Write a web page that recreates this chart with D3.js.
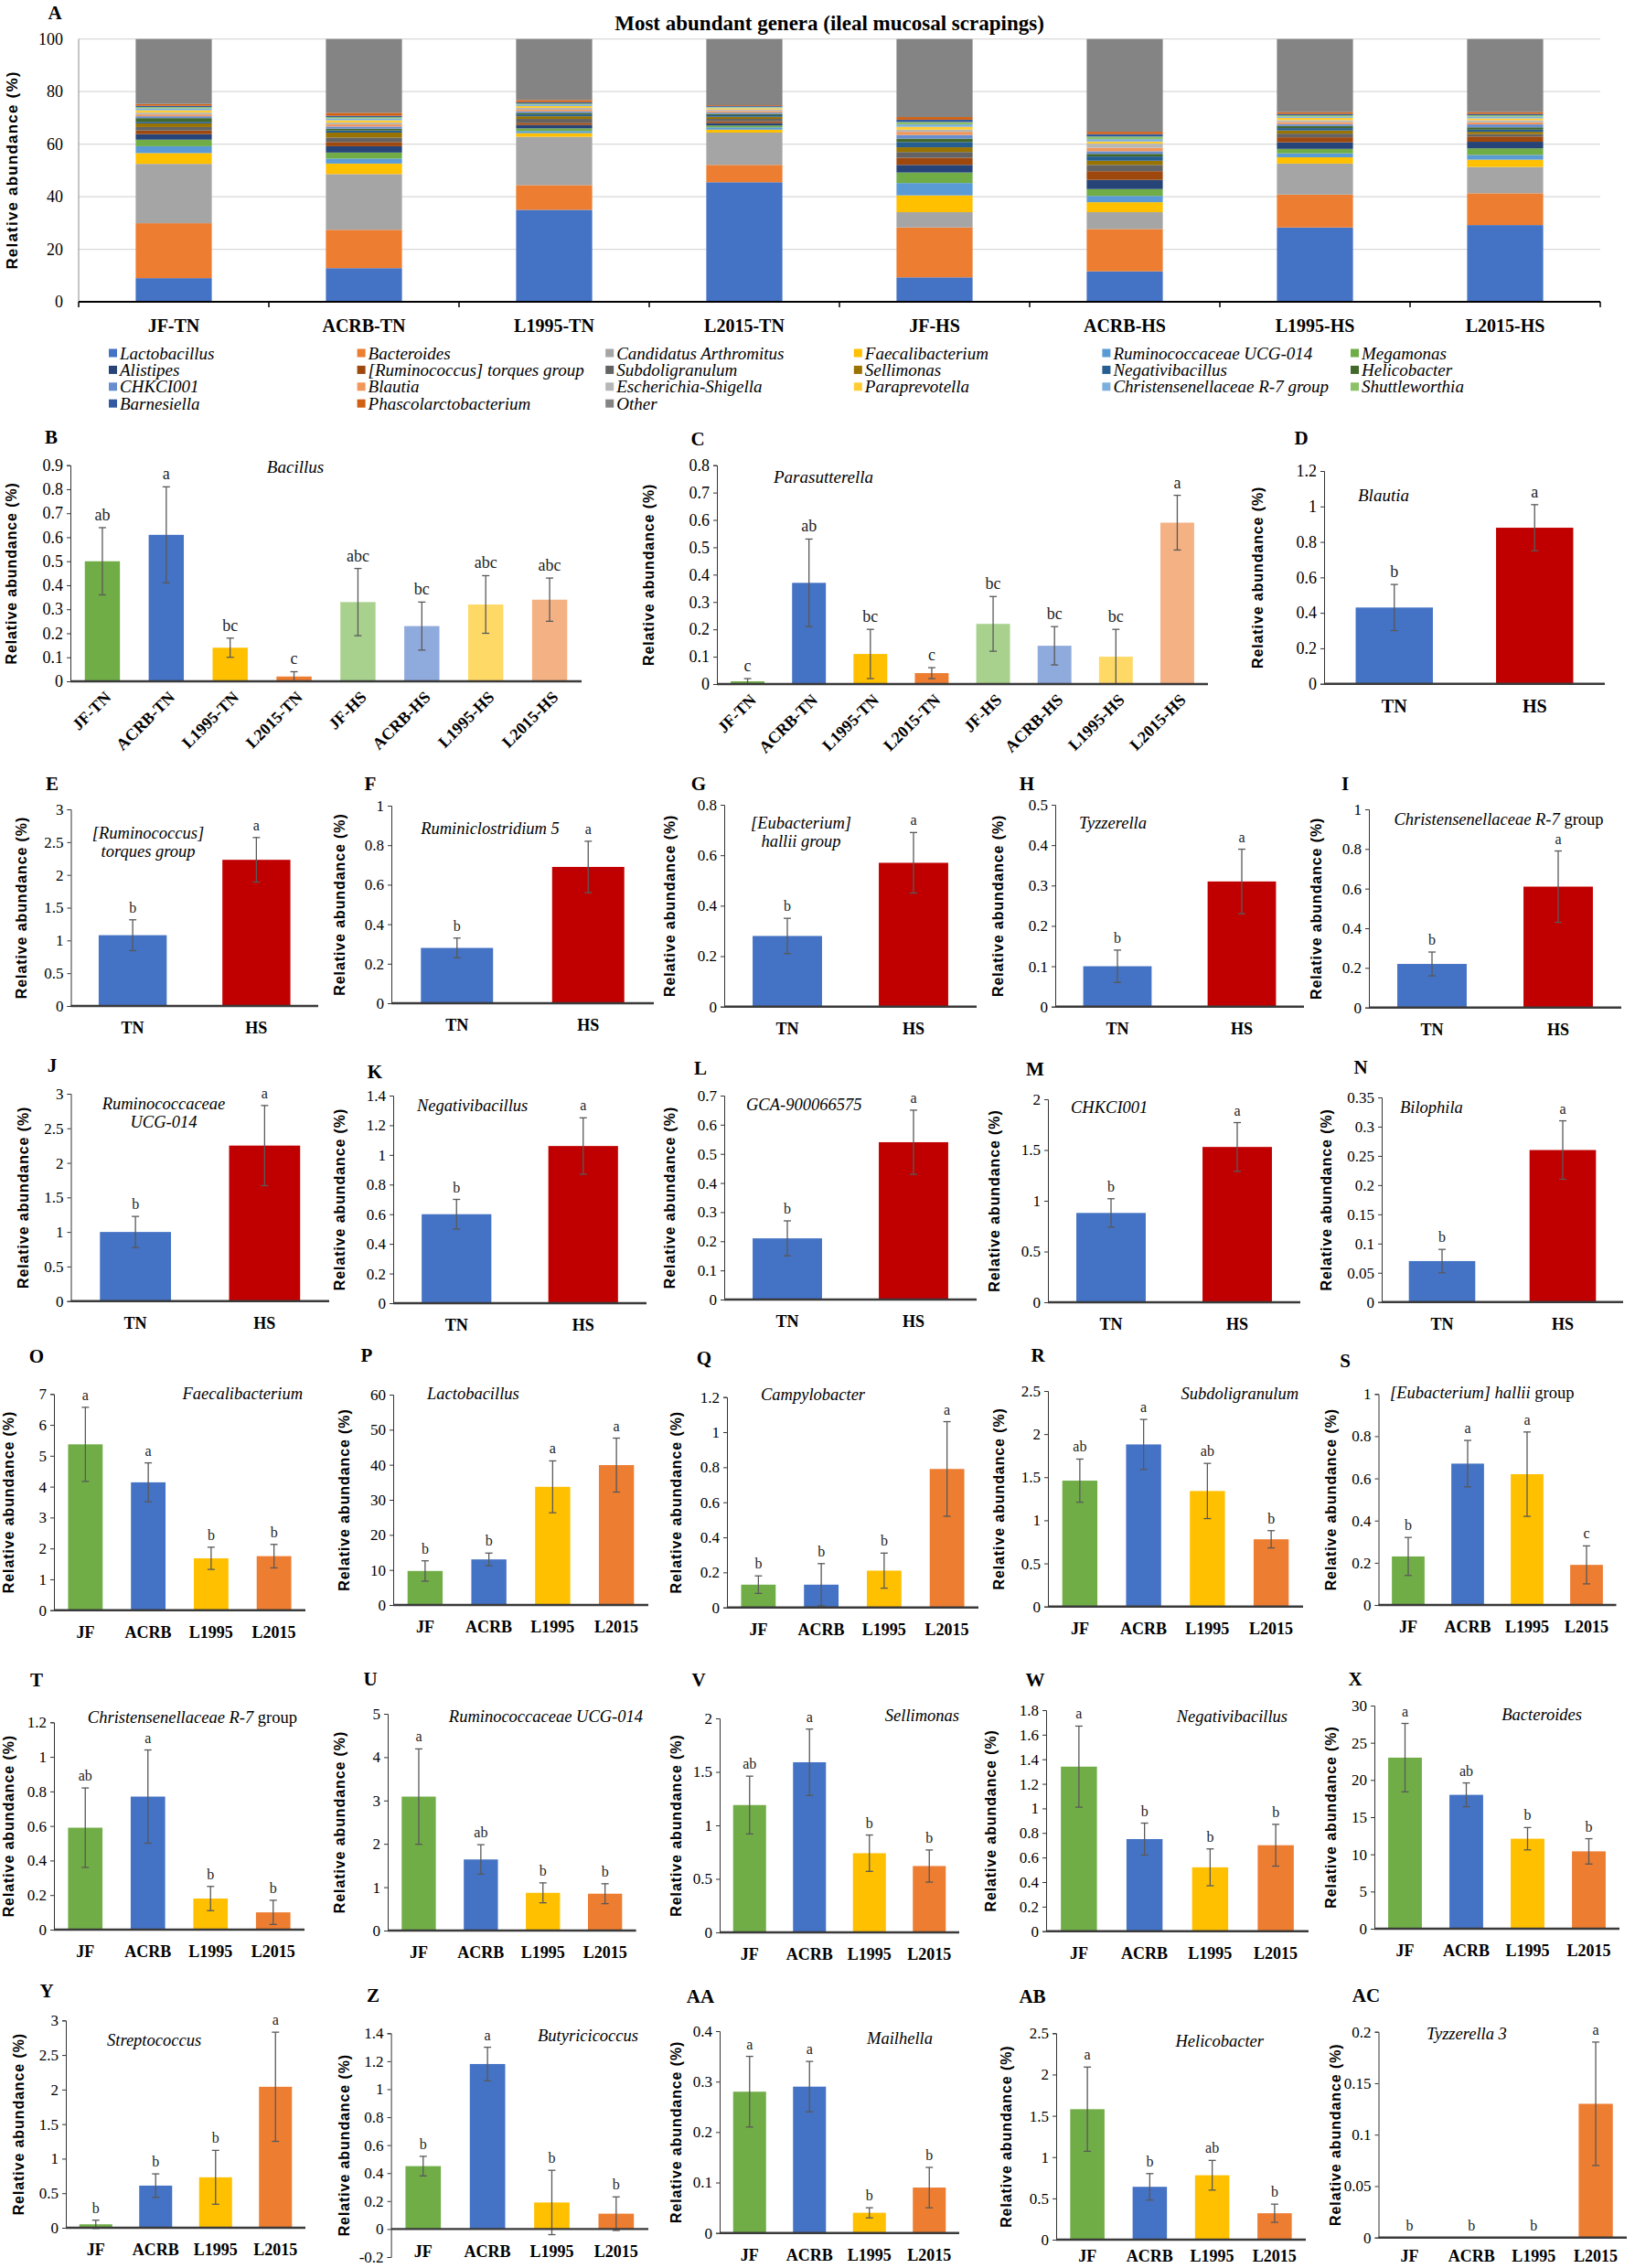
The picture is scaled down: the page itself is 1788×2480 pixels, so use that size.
<!DOCTYPE html>
<meta charset="utf-8">
<script src="https://cdn.jsdelivr.net/npm/d3@7"></script>
<style>
  body { margin: 0; background: #fff; }
  text { font-family: "Liberation Serif", "Times New Roman", serif; }
</style>
<div id="chart"></div>
<script>
// ---------- categories ----------
var groups8 = ["JF-TN","ACRB-TN","L1995-TN","L2015-TN","JF-HS","ACRB-HS","L1995-HS","L2015-HS"];
var groups4 = ["JF","ACRB","L1995","L2015"];
var groups2 = ["TN","HS"];
var colors8 = ["#70AD47","#4472C4","#FFC000","#ED7D31","#A9D18E","#8FAADC","#FFD966","#F4B183"];
var colors4 = ["#70AD47","#4472C4","#FFC000","#ED7D31"];
var colors2 = ["#4472C4","#C00000"];

// ---------- panel A: stacked genera ----------
var genera = ["Lactobacillus","Bacteroides","Candidatus Arthromitus","Faecalibacterium","Ruminococcaceae UCG-014","Megamonas",
  "Alistipes","[Ruminococcus] torques group","Subdoligranulum","Sellimonas","Negativibacillus","Helicobacter",
  "CHKCI001","Blautia","Escherichia-Shigella","Paraprevotella","Christensenellaceae R-7 group","Shuttleworthia",
  "Barnesiella","Phascolarctobacterium","Other"];
var generaColors = ["#4472C4","#ED7D31","#A5A5A5","#FFC000","#5B9BD5","#70AD47",
  "#264478","#9E480E","#636363","#997300","#255E91","#43682B",
  "#698ED0","#F1975A","#B7B7B7","#FFCD33","#7CAFDD","#8CC168",
  "#335AA1","#D26012","#848484"];
// relative abundance (%), genera order, one array per group
var jfTN    = [9.0,20.9,22.6,4.1,2.6,2.5,2.1,1.4,1.3,1.4,0.6,1.4,0.7,0.7,0.7,0.9,0.7,0.5,0.5,0.7,24.7];
var acrbTN  = [12.8,14.6,21.2,4.0,1.9,2.3,2.4,1.6,1.7,1.9,0.8,0.7,0.8,0.8,0.7,0.9,0.7,0.5,0.5,1.1,28.1];
var l1995TN = [35.0,9.4,18.4,1.4,0.8,1.0,1.3,0.8,1.5,1.0,0.7,0.6,0.6,0.6,0.7,0.7,0.6,0.4,0.5,0.8,23.2];
var l2015TN = [45.5,6.6,12.3,1.1,0.9,0.7,0.9,0.7,0.9,0.8,0.6,0.5,0.5,0.6,0.6,0.5,0.3,0.2,0.3,0.3,25.2];
var jfHS    = [9.3,19.0,5.8,6.4,4.7,4.0,2.9,2.7,2.2,1.8,2.0,1.3,1.4,1.2,0.8,1.1,0.9,0.9,0.9,1.0,29.7];
var acrbHS  = [11.6,16.1,6.4,3.8,2.4,2.6,3.5,3.3,2.4,1.6,1.6,1.0,1.0,1.3,1.6,0.8,0.9,1.0,0.9,0.9,35.3];
var l1995HS = [28.3,12.5,11.8,2.4,1.5,1.7,2.5,1.9,1.4,1.2,0.9,0.8,0.7,0.8,0.7,0.9,0.5,0.5,0.5,0.7,27.8];
var l2015HS = [29.2,12.1,10.0,2.8,1.8,2.5,2.5,2.0,0.9,0.9,0.8,0.9,1.1,0.8,0.8,0.7,0.7,0.5,0.5,0.7,27.8];
var stackTicks = [0,20,40,60,80,100];

// ---------- single-genus panels: mean, SE, letters ----------
var bacillusM = [0.50,0.61,0.14,0.02,0.33,0.23,0.32,0.34], bacillusSE = [0.14,0.20,0.04,0.02,0.14,0.10,0.12,0.09];
var bacillusSig = ["ab","a","bc","c","abc","bc","abc","abc"];
var parasutM = [0.01,0.37,0.11,0.04,0.22,0.14,0.10,0.59], parasutSE = [0.01,0.16,0.09,0.02,0.10,0.07,0.10,0.10];
var parasutSig = ["c","ab","bc","c","bc","bc","bc","a"];

var blautiaM = [0.43,0.88], blautiaSE = [0.13,0.13];
var torquesM = [1.08,2.23], torquesSE = [0.235,0.34];
var ruminiM = [0.28,0.69], ruminiSE = [0.05,0.13];
var halliiM = [0.28,0.57], halliiSE = [0.07,0.12];
var tyzzM = [0.10,0.31], tyzzSE = [0.04,0.08];
var christM = [0.22,0.61], christSE = [0.06,0.18];
var ucgM = [1.00,2.25], ucgSE = [0.225,0.58];
var negM = [0.60,1.06], negSE = [0.10,0.19];
var gcaM = [0.21,0.54], gcaSE = [0.06,0.11];
var chkciM = [0.88,1.53], chkciSE = [0.14,0.24];
var biloM = [0.07,0.26], biloSE = [0.02,0.05];
var sigBA = ["b","a"];

var faecali4M = [5.37,4.14,1.68,1.75], faecali4SE = [1.2,0.63,0.36,0.38], faecali4Sig = ["a","a","b","b"];
var lacto4M = [9.7,13.0,33.7,39.9], lacto4SE = [2.9,1.8,7.4,7.7], lacto4Sig = ["b","b","a","a"];
var campy4M = [0.13,0.13,0.21,0.79], campy4SE = [0.05,0.12,0.10,0.27], campy4Sig = ["b","b","b","a"];
var subdoli4M = [1.46,1.88,1.34,0.78], subdoli4SE = [0.25,0.29,0.32,0.10], subdoli4Sig = ["ab","a","ab","b"];
var hallii4M = [0.23,0.67,0.62,0.19], hallii4SE = [0.09,0.11,0.20,0.09], hallii4Sig = ["b","a","a","c"];
var christ4M = [0.59,0.77,0.18,0.10], christ4SE = [0.23,0.27,0.07,0.07], christ4Sig = ["ab","a","b","b"];
var ucg4M = [3.09,1.64,0.87,0.85], ucg4SE = [1.1,0.34,0.23,0.23], ucg4Sig = ["a","ab","b","b"];
var sellim4M = [1.19,1.59,0.74,0.62], sellim4SE = [0.27,0.31,0.17,0.15], sellim4Sig = ["ab","a","b","b"];
var neg4M = [1.34,0.75,0.52,0.70], neg4SE = [0.33,0.13,0.15,0.17], neg4Sig = ["a","b","b","b"];
var bactero4M = [23.0,18.0,12.1,10.4], bactero4SE = [4.6,1.6,1.5,1.7], bactero4Sig = ["a","ab","b","b"];
var strepto4M = [0.05,0.61,0.73,2.04], strepto4SE = [0.06,0.17,0.39,0.79], strepto4Sig = ["b","b","b","a"];
var butyri4M = [0.45,1.18,0.19,0.11], butyri4SE = [0.07,0.12,0.23,0.12], butyri4Sig = ["b","a","b","b"];
var mailh4M = [0.28,0.29,0.04,0.09], mailh4SE = [0.07,0.05,0.01,0.04], mailh4Sig = ["a","a","b","b"];
var helico4M = [1.58,0.64,0.78,0.32], helico4SE = [0.51,0.16,0.18,0.11], helico4Sig = ["a","b","ab","b"];
var tyzz3_4M = [0,0,0,0.13], tyzz3_4SE = [0,0,0,0.06], tyzz3_4Sig = ["b","b","b","a"];

// ---------- setup ----------
var W = 1788, H = 2480;
var svg = d3.select("#chart").append("svg").attr("width", W).attr("height", H);
var fmt = function(v) { return String(+v.toFixed(2)); };
var sans = "'Liberation Sans', Arial, sans-serif";

function yLabel(x, y, size, spacing) {
  svg.append("text")
    .attr("transform", "translate(" + x + "," + y + ") rotate(-90)")
    .attr("text-anchor", "middle").attr("dy", "0.35em")
    .style("font-family", sans).style("font-weight", "bold").style("font-size", size + "px")
    .style("letter-spacing", spacing + "px")
    .text("Relative abundance (%)");
}
function panelLetter(t, x, y) {
  svg.append("text").attr("x", x).attr("y", y).attr("dy", "0.35em")
    .attr("text-anchor", "middle").style("font-weight", "bold").style("font-size", "21px").text(t);
}

// ---------- panel A ----------
var sampleRows = [jfTN, acrbTN, l1995TN, l2015TN, jfHS, acrbHS, l1995HS, l2015HS];
var tableA = groups8.map(function(g, i) {
  var row = { group: g };
  genera.forEach(function(name, j) { row[name] = sampleRows[i][j]; });
  return row;
});
var series = d3.stack().keys(genera)(tableA);
var xA = d3.scaleBand().domain(groups8).range([86, 1750]).paddingInner(0.6).paddingOuter(0.3);
var yA = d3.scaleLinear().domain([0, 100]).range([330, 42.7]);
var colorA = d3.scaleOrdinal().domain(genera).range(generaColors);

panelLetter("A", 60, 14);
svg.append("text").attr("x", 907).attr("y", 25).attr("dy", "0.35em").attr("text-anchor", "middle")
  .style("font-weight", "bold").style("font-size", "23px")
  .text("Most abundant genera (ileal mucosal scrapings)");

svg.append("g").selectAll("line").data(stackTicks.slice(1)).enter().append("line")
  .attr("x1", 86).attr("x2", 1750).attr("y1", function(d) { return yA(d); }).attr("y2", function(d) { return yA(d); })
  .attr("stroke", "#d9d9d9").attr("stroke-width", 1.2);
svg.append("line").attr("x1", 86).attr("x2", 86).attr("y1", yA(0)).attr("y2", yA(100))
  .attr("stroke", "#8c8c8c").attr("stroke-width", 1);

svg.append("g").selectAll("g").data(series).enter().append("g")
  .attr("fill", function(d) { return colorA(d.key); })
  .selectAll("rect").data(function(d) { return d; }).enter().append("rect")
  .attr("x", function(d) { return xA(d.data.group); })
  .attr("width", xA.bandwidth())
  .attr("y", function(d) { return yA(d[1]); })
  .attr("height", function(d) { return yA(d[0]) - yA(d[1]); });

var yAxisA = svg.append("g").attr("transform", "translate(86,0)")
  .call(d3.axisLeft(yA).tickValues(stackTicks).tickSize(0).tickPadding(17));
yAxisA.select(".domain").remove();
yAxisA.selectAll("text").style("font-family", "'Liberation Serif', serif").style("font-size", "18px").attr("fill", "#000");

svg.append("line").attr("x1", 86).attr("x2", 1750).attr("y1", yA(0)).attr("y2", yA(0))
  .attr("stroke", "#000").attr("stroke-width", 1.8);
svg.append("g").selectAll("line").data(d3.range(groups8.length + 1)).enter().append("line")
  .attr("x1", function(i) { return 86 + i * xA.step(); }).attr("x2", function(i) { return 86 + i * xA.step(); })
  .attr("y1", yA(0)).attr("y2", yA(0) + 6).attr("stroke", "#000").attr("stroke-width", 1.5);
svg.append("g").selectAll("text").data(groups8).enter().append("text")
  .attr("x", function(d) { return xA(d) + xA.bandwidth() / 2; }).attr("y", 356).attr("dy", "0.35em")
  .attr("text-anchor", "middle").style("font-weight", "bold").style("font-size", "20px")
  .text(function(d) { return d; });
yLabel(12.6, 186, 17, 1.2);

// legend
var leg = svg.append("g").selectAll("g").data(genera).enter().append("g")
  .attr("transform", function(d, i) { return "translate(" + (124 + (i % 6) * 271.6) + "," + (386 + Math.floor(i / 6) * 18.4) + ")"; });
leg.append("rect").attr("x", -5).attr("y", -4.5).attr("width", 9).attr("height", 9)
  .attr("fill", function(d) { return colorA(d); });
leg.append("text").attr("x", 7).attr("dy", "0.35em").style("font-style", "italic").style("font-size", "19px")
  .text(function(d) { return d; });

// ---------- bar panels ----------
function barPanel(p) {
  var x = d3.scaleBand().domain(p.cats).range([p.x0, p.x1]).paddingInner(0.45).paddingOuter(0.225);
  var y = d3.scaleLinear().domain(p.dom).range([p.yBot, p.yTop]);
  var nt = Math.round((p.dom[1] - p.dom[0]) / p.step);
  var ticks = d3.range(nt + 1).map(function(i) { return p.dom[0] + i * p.step; });
  var rows = p.cats.map(function(c, i) { return { cat: c, m: p.mean[i], se: p.se[i], sig: p.sig[i], col: p.colors[i] }; });

  var ax = svg.append("g").attr("transform", "translate(" + p.x0 + ",0)")
    .call(d3.axisLeft(y).tickValues(ticks).tickSize(4).tickPadding(4).tickFormat(fmt));
  ax.selectAll("text").style("font-family", "'Liberation Serif', serif").style("font-size", (p.big ? 18 : 17) + "px").attr("fill", "#000");
  ax.selectAll("line").attr("stroke", "#333");
  ax.select(".domain").attr("stroke", "#333");

  var g = svg.append("g");
  g.selectAll("rect").data(rows).enter().append("rect")
    .attr("x", function(d) { return x(d.cat); }).attr("width", x.bandwidth())
    .attr("y", function(d) { return y(Math.max(0, d.m)); })
    .attr("height", function(d) { return Math.abs(y(d.m) - y(0)); })
    .attr("fill", function(d) { return d.col; });

  svg.append("line").attr("x1", p.x0).attr("x2", p.x1).attr("y1", y(0)).attr("y2", y(0))
    .attr("stroke", "#3a3a3a").attr("stroke-width", 2.4);

  var eb = g.selectAll("g.err").data(rows.filter(function(d) { return d.se > 0; })).enter().append("g")
    .attr("transform", function(d) { return "translate(" + (x(d.cat) + x.bandwidth() / 2) + ",0)"; })
    .attr("stroke", "#595959").attr("stroke-width", 1.3);
  eb.append("line").attr("y1", function(d) { return y(d.m - d.se); }).attr("y2", function(d) { return y(d.m + d.se); });
  eb.append("line").attr("x1", -4).attr("x2", 4).attr("y1", function(d) { return y(d.m + d.se); }).attr("y2", function(d) { return y(d.m + d.se); });
  eb.append("line").attr("x1", -4).attr("x2", 4).attr("y1", function(d) { return y(d.m - d.se); }).attr("y2", function(d) { return y(d.m - d.se); });

  g.selectAll("text.sig").data(rows).enter().append("text")
    .attr("x", function(d) { return x(d.cat) + x.bandwidth() / 2; })
    .attr("y", function(d) { return y(Math.max(0, d.m + d.se)) - 8; })
    .attr("text-anchor", "middle").style("font-size", (p.big ? 18 : 16) + "px").attr("fill", "#222")
    .text(function(d) { return d.sig; });

  if (p.rotate) {
    g.selectAll("text.xl").data(p.cats).enter().append("text")
      .attr("transform", function(d) { return "translate(" + (x(d) + x.bandwidth() / 2 + 6) + "," + (y(0) + 14) + ") rotate(-45)"; })
      .attr("text-anchor", "end").attr("dy", "0.35em")
      .style("font-weight", "bold").style("font-size", "18px").text(function(d) { return d; });
  } else {
    var ly = Math.min(y(0) + 24, H - 13);
    g.selectAll("text.xl").data(p.cats).enter().append("text")
      .attr("x", function(d) { return x(d) + x.bandwidth() / 2; }).attr("y", ly).attr("dy", "0.35em")
      .attr("text-anchor", "middle").style("font-weight", "bold").style("font-size", (p.big ? 20 : 18) + "px").text(function(d) { return d; });
  }

  var t = svg.append("text").attr("text-anchor", p.anchor).style("font-size", (p.big ? 19 : 18.5) + "px");
  p.title.forEach(function(line, i) {
    var ts = t.append("tspan").attr("x", p.tx).attr("y", p.ty + i * 20).attr("dy", "0.35em");
    if (p.uprightGroup && /group$/.test(line)) {
      ts.append("tspan").style("font-style", "italic").text(line.replace(/ group$/, " "));
      ts.append("tspan").text("group");
    } else {
      ts.style("font-style", "italic").text(line);
    }
  });

  panelLetter(p.id, p.lx, p.ly);
  yLabel(p.ylx, (p.yTop + p.yBot) / 2, 16, 0.9);
}

var panels = [
  {id:"B", cats:groups8, colors:colors8, mean:bacillusM, se:bacillusSE, sig:bacillusSig, big:true, rotate:true,
   x0:77, x1:636, yTop:508.7, yBot:745, dom:[0,0.9], step:0.1, title:["Bacillus"], anchor:"middle", tx:323, ty:510, lx:56, ly:478, ylx:12},
  {id:"C", cats:groups8, colors:colors8, mean:parasutM, se:parasutSE, sig:parasutSig, big:true, rotate:true,
   x0:784, x1:1321, yTop:508.7, yBot:748, dom:[0,0.8], step:0.1, title:["Parasutterella"], anchor:"start", tx:846, ty:521, lx:763, ly:480, ylx:709},
  {id:"D", cats:groups2, colors:colors2, mean:blautiaM, se:blautiaSE, sig:sigBA, big:true,
   x0:1448, x1:1755, yTop:515, yBot:747.7, dom:[0,1.2], step:0.2, title:["Blautia"], anchor:"start", tx:1485, ty:541, lx:1423, ly:479, ylx:1375},

  {id:"E", cats:groups2, colors:colors2, mean:torquesM, se:torquesSE, sig:sigBA,
   x0:77.5, x1:348, yTop:885, yBot:1100, dom:[0,3], step:0.5, title:["[Ruminococcus]","torques group"], anchor:"middle", tx:162, ty:911, lx:57, ly:857, ylx:23},
  {id:"F", cats:groups2, colors:colors2, mean:ruminiM, se:ruminiSE, sig:sigBA,
   x0:428, x1:715, yTop:881, yBot:1097, dom:[0,1], step:0.2, title:["Ruminiclostridium 5"], anchor:"middle", tx:536, ty:906, lx:405, ly:857, ylx:371},
  {id:"G", cats:groups2, colors:colors2, mean:halliiM, se:halliiSE, sig:sigBA,
   x0:792, x1:1068, yTop:880, yBot:1100.7, dom:[0,0.8], step:0.2, title:["[Eubacterium]","hallii group"], anchor:"middle", tx:876, ty:900, lx:764, ly:857, ylx:732},
  {id:"H", cats:groups2, colors:colors2, mean:tyzzM, se:tyzzSE, sig:sigBA,
   x0:1154, x1:1426, yTop:880, yBot:1100.7, dom:[0,0.5], step:0.1, title:["Tyzzerella"], anchor:"start", tx:1180, ty:900, lx:1123, ly:857, ylx:1091},
  {id:"I", cats:groups2, colors:colors2, mean:christM, se:christSE, sig:sigBA, uprightGroup:true,
   x0:1497, x1:1773, yTop:885, yBot:1101.7, dom:[0,1], step:0.2, title:["Christensenellaceae R-7 group"], anchor:"middle", tx:1639, ty:896, lx:1471, ly:857, ylx:1439},

  {id:"J", cats:groups2, colors:colors2, mean:ucgM, se:ucgSE, sig:sigBA,
   x0:77.5, x1:360, yTop:1196, yBot:1422.7, dom:[0,3], step:0.5, title:["Ruminococcaceae","UCG-014"], anchor:"middle", tx:179, ty:1207, lx:57, ly:1165, ylx:25},
  {id:"K", cats:groups2, colors:colors2, mean:negM, se:negSE, sig:sigBA,
   x0:430, x1:707, yTop:1198, yBot:1425, dom:[0,1.4], step:0.2, title:["Negativibacillus"], anchor:"start", tx:456, ty:1209, lx:410, ly:1172, ylx:371},
  {id:"L", cats:groups2, colors:colors2, mean:gcaM, se:gcaSE, sig:sigBA,
   x0:792, x1:1068, yTop:1198, yBot:1421, dom:[0,0.7], step:0.1, title:["GCA-900066575"], anchor:"start", tx:816, ty:1208, lx:766, ly:1168, ylx:732},
  {id:"M", cats:groups2, colors:colors2, mean:chkciM, se:chkciSE, sig:sigBA,
   x0:1146, x1:1422, yTop:1202, yBot:1424, dom:[0,2], step:0.5, title:["CHKCI001"], anchor:"start", tx:1171, ty:1211, lx:1132, ly:1169, ylx:1087},
  {id:"N", cats:groups2, colors:colors2, mean:biloM, se:biloSE, sig:sigBA,
   x0:1511, x1:1775, yTop:1200, yBot:1423.7, dom:[0,0.35], step:0.05, title:["Bilophila"], anchor:"start", tx:1531, ty:1211, lx:1488, ly:1167, ylx:1450},

  {id:"O", cats:groups4, colors:colors4, mean:faecali4M, se:faecali4SE, sig:faecali4Sig,
   x0:59, x1:334, yTop:1524.3, yBot:1760.7, dom:[0,7], step:1, title:["Faecalibacterium"], anchor:"end", tx:331, ty:1524, lx:40, ly:1483, ylx:9},
  {id:"P", cats:groups4, colors:colors4, mean:lacto4M, se:lacto4SE, sig:lacto4Sig,
   x0:430, x1:709, yTop:1525, yBot:1755, dom:[0,60], step:10, title:["Lactobacillus"], anchor:"start", tx:467, ty:1524, lx:401, ly:1482, ylx:376},
  {id:"Q", cats:groups4, colors:colors4, mean:campy4M, se:campy4SE, sig:campy4Sig,
   x0:795, x1:1070, yTop:1527.7, yBot:1757.7, dom:[0,1.2], step:0.2, title:["Campylobacter"], anchor:"start", tx:832, ty:1525, lx:770, ly:1485, ylx:739},
  {id:"R", cats:groups4, colors:colors4, mean:subdoli4M, se:subdoli4SE, sig:subdoli4Sig,
   x0:1146, x1:1425, yTop:1521, yBot:1756.7, dom:[0,2.5], step:0.5, title:["Subdoligranulum"], anchor:"end", tx:1420, ty:1524, lx:1135, ly:1482, ylx:1092},
  {id:"S", cats:groups4, colors:colors4, mean:hallii4M, se:hallii4SE, sig:hallii4Sig, uprightGroup:true,
   x0:1507.5, x1:1767.5, yTop:1524.3, yBot:1755, dom:[0,1], step:0.2, title:["[Eubacterium] hallii group"], anchor:"start", tx:1520, ty:1523, lx:1471, ly:1488, ylx:1455},

  {id:"T", cats:groups4, colors:colors4, mean:christ4M, se:christ4SE, sig:christ4Sig, uprightGroup:true,
   x0:59, x1:333, yTop:1883.3, yBot:2110, dom:[0,1.2], step:0.2, title:["Christensenellaceae R-7 group"], anchor:"end", tx:325, ty:1878, lx:40, ly:1837, ylx:9},
  {id:"U", cats:groups4, colors:colors4, mean:ucg4M, se:ucg4SE, sig:ucg4Sig,
   x0:424, x1:695.6, yTop:1874, yBot:2111, dom:[0,5], step:1, title:["Ruminococcaceae UCG-014"], anchor:"end", tx:703, ty:1877, lx:405, ly:1836, ylx:371},
  {id:"V", cats:groups4, colors:colors4, mean:sellim4M, se:sellim4SE, sig:sellim4Sig,
   x0:787, x1:1049, yTop:1879, yBot:2113, dom:[0,2], step:0.5, title:["Sellimonas"], anchor:"end", tx:1049, ty:1876, lx:764, ly:1837, ylx:739},
  {id:"W", cats:groups4, colors:colors4, mean:neg4M, se:neg4SE, sig:neg4Sig,
   x0:1144, x1:1431, yTop:1870, yBot:2111.7, dom:[0,1.8], step:0.2, title:["Negativibacillus"], anchor:"end", tx:1408, ty:1877, lx:1132, ly:1837, ylx:1083},
  {id:"X", cats:groups4, colors:colors4, mean:bactero4M, se:bactero4SE, sig:bactero4Sig,
   x0:1503, x1:1771, yTop:1865, yBot:2109, dom:[0,30], step:5, title:["Bacteroides"], anchor:"end", tx:1730, ty:1875, lx:1482, ly:1836, ylx:1455},

  {id:"Y", cats:groups4, colors:colors4, mean:strepto4M, se:strepto4SE, sig:strepto4Sig,
   x0:72, x1:334, yTop:2209.3, yBot:2436, dom:[0,3], step:0.5, title:["Streptococcus"], anchor:"start", tx:117, ty:2231, lx:51, ly:2177, ylx:20.5},
  {id:"Z", cats:groups4, colors:colors4, mean:butyri4M, se:butyri4SE, sig:butyri4Sig,
   x0:427.6, x1:709, yTop:2223.3, yBot:2468, dom:[-0.2,1.4], step:0.2, title:["Butyricicoccus"], anchor:"end", tx:698, ty:2226, lx:408, ly:2182, ylx:376},
  {id:"AA", cats:groups4, colors:colors4, mean:mailh4M, se:mailh4SE, sig:mailh4Sig,
   x0:787, x1:1049, yTop:2221, yBot:2441.7, dom:[0,0.4], step:0.1, title:["Mailhella"], anchor:"end", tx:1020, ty:2229, lx:766, ly:2183, ylx:739},
  {id:"AB", cats:groups4, colors:colors4, mean:helico4M, se:helico4SE, sig:helico4Sig,
   x0:1155, x1:1428, yTop:2223.3, yBot:2449, dom:[0,2.5], step:0.5, title:["Helicobacter"], anchor:"end", tx:1382, ty:2232, lx:1129, ly:2183, ylx:1100},
  {id:"AC", cats:groups4, colors:colors4, mean:tyzz3_4M, se:tyzz3_4SE, sig:tyzz3_4Sig,
   x0:1507.5, x1:1779, yTop:2221.7, yBot:2446.7, dom:[0,0.2], step:0.05, title:["Tyzzerella 3"], anchor:"start", tx:1560, ty:2224, lx:1494, ly:2182, ylx:1460}
];

panels.forEach(barPanel);
</script>
